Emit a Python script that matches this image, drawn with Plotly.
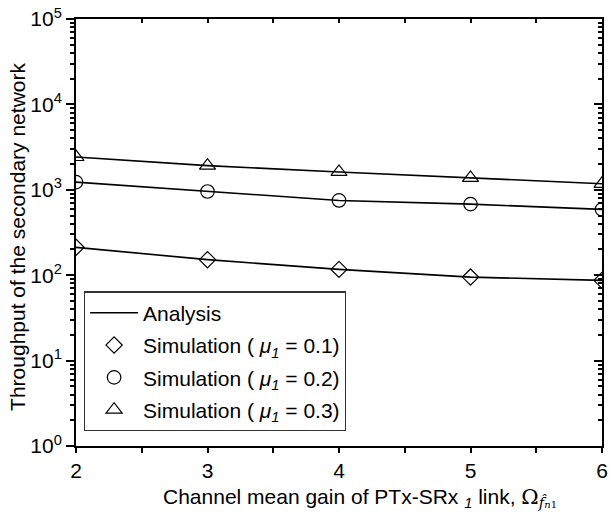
import plotly.graph_objects as go

# Channel mean gain values (x axis)
gain = [2, 3, 4, 5, 6]

# Simulated throughput for each mu_1
sim_mu01 = [212, 152, 117, 95, 87]
sim_mu02 = [1230, 955, 750, 680, 590]
sim_mu03 = [2420, 1918, 1619, 1379, 1175]

# Analytical throughput (same grid)
ana_mu01 = [212, 152, 117, 95, 87]
ana_mu02 = [1230, 955, 750, 680, 590]
ana_mu03 = [2420, 1918, 1619, 1379, 1175]

y_tick_vals = [1, 10, 100, 1000, 10000, 100000]
y_tick_text = ["10<sup>0</sup>", "10<sup>1</sup>", "10<sup>2</sup>",
               "10<sup>3</sup>", "10<sup>4</sup>", "10<sup>5</sup>"]
x_tick_vals = [2, 3, 4, 5, 6]
x_minor_vals = [2.5, 3.5, 4.5, 5.5]
y_minor_vals = [m * 10 ** k for k in range(0, 5) for m in range(2, 10)]

FONT = "Liberation Sans, Arial, sans-serif"
BLACK = "#000000"

fig = go.Figure()

# Analysis curves
for i, ys in enumerate([ana_mu01, ana_mu02, ana_mu03]):
    fig.add_trace(go.Scatter(
        x=gain, y=ys, mode="lines",
        line=dict(color=BLACK, width=1.6),
        name="Analysis", showlegend=(i == 0),
        legendgroup="a", legendrank=1,
    ))

# Simulation points
sims = [
    (sim_mu01, "diamond-open", 12.5, "0.1", 2),
    (sim_mu02, "circle-open", 13.5, "0.2", 3),
    (sim_mu03, "triangle-up-open", 14, "0.3", 4),
]
for ys, sym, sz, mu, rank in sims:
    fig.add_trace(go.Scatter(
        x=gain, y=ys, mode="markers",
        marker=dict(symbol=sym, size=sz, color=BLACK,
                    line=dict(color=BLACK, width=1.2)),
        name=f"Simulation ( <i>μ</i><sub><i>1</i></sub> = {mu})",
        legendgroup=f"s{mu}", legendrank=rank,
    ))

axis_common = dict(
    showline=True, linecolor=BLACK, linewidth=1.8,
    showgrid=False, zeroline=False,
    tickcolor=BLACK, tickwidth=1.5,
    tickfont=dict(family=FONT, size=21, color=BLACK),
)

fig.update_layout(
    width=613, height=527,
    margin=dict(l=76, r=5, t=15, b=81),
    paper_bgcolor="white", plot_bgcolor="white",
    font=dict(family=FONT, size=21, color=BLACK),
    xaxis=dict(
        range=[2, 6], tickvals=x_tick_vals,
        ticks="outside", ticklen=5, ticklabeloverflow="allow",
        minor=dict(tickvals=x_minor_vals, ticks="outside", ticklen=5,
                   tickcolor=BLACK, tickwidth=1.5, showgrid=False),
        **axis_common,
    ),
    yaxis=dict(
        type="log", range=[0, 5],
        tickvals=y_tick_vals, ticktext=y_tick_text,
        ticks="outside", ticklen=8, ticklabeloverflow="allow",
        minor=dict(tickvals=y_minor_vals, ticks="outside", ticklen=4,
                   tickcolor=BLACK, tickwidth=1.5, showgrid=False),
        **axis_common,
    ),
    xaxis2=dict(
        overlaying="x", side="top", range=[2, 6],
        tickvals=x_tick_vals, showticklabels=False,
        ticks="inside", ticklen=4,
        minor=dict(tickvals=x_minor_vals, ticks="inside", ticklen=4,
                   tickcolor=BLACK, tickwidth=1.5, showgrid=False),
        **axis_common,
    ),
    yaxis2=dict(
        overlaying="y", side="right", type="log", range=[0, 5],
        tickvals=y_tick_vals, showticklabels=False,
        ticks="inside", ticklen=8,
        minor=dict(tickvals=y_minor_vals, ticks="inside", ticklen=4,
                   tickcolor=BLACK, tickwidth=1.5, showgrid=False),
        **axis_common,
    ),
    legend=dict(
        x=0.015, y=0.362, xanchor="left", yanchor="top",
        bgcolor="white", bordercolor="#333333", borderwidth=1.2,
        font=dict(family=FONT, size=21, color=BLACK),
        itemwidth=48, tracegroupgap=2, traceorder="grouped",
    ),
    showlegend=True,
)

# Invisible trace so the mirrored top/right axes are drawn
fig.add_trace(go.Scatter(x=[2], y=[1], xaxis="x2", yaxis="y2",
                         mode="markers", marker=dict(opacity=0),
                         showlegend=False, hoverinfo="skip"))

# Axis titles
fig.add_annotation(
    text="Throughput of the secondary network",
    xref="paper", yref="paper", x=-0.11, y=0.49,
    xanchor="center", yanchor="middle", textangle=-90,
    showarrow=False, font=dict(family=FONT, size=21, color=BLACK),
)
fig.add_annotation(
    text="Channel mean gain of PTx-SRx <sub><i>1</i></sub> link, "
         "<span style='font-family:DejaVu Serif'>Ω</span>"
         "<sub><span style='font-family:DejaVu Serif'><i>f̂</i></span>"
         "<span style='font-size:10px;font-family:DejaVu Serif'><i>n</i>1</span></sub>",
    xref="paper", yref="paper", x=0.162, y=-0.121,
    xanchor="left", yanchor="middle",
    showarrow=False, font=dict(family=FONT, size=21, color=BLACK),
)

fig.write_html("out.html")
